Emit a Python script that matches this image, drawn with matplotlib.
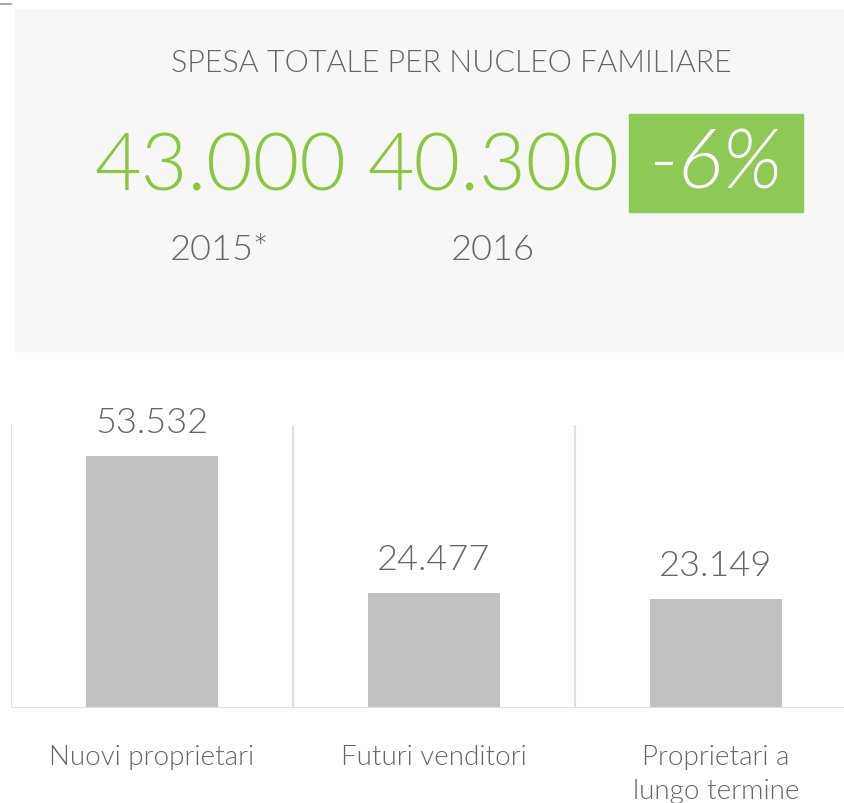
import matplotlib
matplotlib.use("Agg")
import matplotlib.pyplot as plt
from matplotlib.patches import Rectangle

# data
categories = ["Nuovi proprietari", "Futuri venditori", "Proprietari a\nlungo termine"]
values = [53532, 24477, 23149]
value_labels = ["53.532", "24.477", "23.149"]

title = "SPESA TOTALE PER NUCLEO FAMILIARE"
years = ["2015*", "2016"]
year_totals = ["43.000", "40.300"]
change = "-6%"

GREEN = "#8cc63f"
GREEN_BOX = "#8dc956"
TXT = "#666666"
BAR = "#c1c1c1"
GRID = "#e0e0e0"
LIGHT = 300

plt.rcParams['font.family'] = ['Lato', 'DejaVu Sans']

W, H = 845, 804
fig = plt.figure(figsize=(W / 100, H / 100), dpi=100)


def fx(px):
    return px / W


def fy(py):
    return 1 - py / H


# header panel
fig.patches.append(Rectangle((fx(15), fy(352)), fx(830), 342 / H,
                             transform=fig.transFigure, color="#f7f7f7", zorder=0))
fig.lines.append(plt.Line2D([0, fx(11)], [fy(4.5), fy(4.5)], transform=fig.transFigure,
                            color="#aaaaaa", lw=1.5))
fig.text(fx(451), fy(64), title, ha="center", va="center", fontsize=22,
         color=TXT, fontweight=LIGHT)

for i, (yr, tot) in enumerate(zip(years, year_totals)):
    cx = [220, 493][i]
    fig.text(fx(cx), fy(168), tot, ha="center", va="center", fontsize=58,
             color=GREEN, fontweight=LIGHT)
    fig.text(fx(cx), fy(250), yr, ha="center", va="center", fontsize=26,
             color=TXT, fontweight=LIGHT)

fig.patches.append(Rectangle((fx(629), fy(213)), fx(174), 98 / H,
                             transform=fig.transFigure, color=GREEN_BOX, zorder=1))
fig.text(fx(716), fy(166), change, ha="center", va="center", fontsize=60,
         color="white", fontstyle="italic", fontweight=LIGHT, zorder=2)

# bar chart
ax = fig.add_axes([fx(11), fy(709), 846 / W, (709 - 426) / H])
x = range(len(values))
ax.bar(x, values, width=0.47, color=BAR, zorder=2)
ax.set_xlim(-0.5, len(values) - 0.5)
ax.set_ylim(0, 60000)
for xi in [-0.5, 0.5, 1.5, 2.5]:
    ax.axvline(xi, color=GRID, lw=1.5, zorder=1)
ax.axhline(0, color=GRID, lw=2, zorder=3)
for s in ax.spines.values():
    s.set_visible(False)
ax.set_yticks([])
ax.set_xticks(list(x))
ax.set_xticklabels(categories, fontsize=20, color=TXT, linespacing=1.45,
                   fontweight=LIGHT)
ax.tick_params(axis="x", length=0, pad=26)
for xi, v, lab in zip(x, values, value_labels):
    ax.annotate(lab, (xi, v), xytext=(0, 24), textcoords="offset points",
                ha="center", va="center", fontsize=26, color=TXT, fontweight=LIGHT)

fig.savefig("out.png", dpi=100)
